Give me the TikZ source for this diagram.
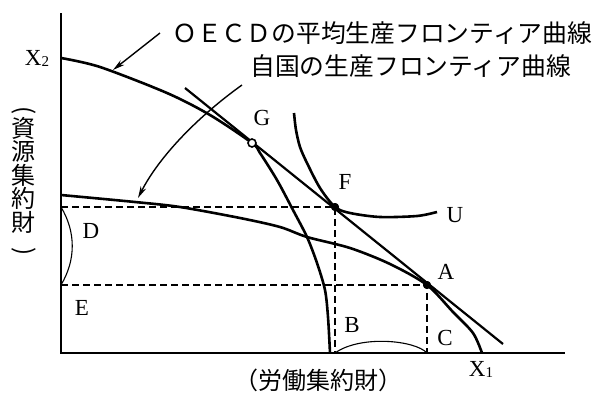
\documentclass[tikz,border=0pt]{standalone}
\usepackage{fontspec}
\setmainfont{Liberation Serif}
\newfontfamily\cjk{Noto Sans CJK JP}
\usetikzlibrary{arrows.meta,positioning}

\begin{document}
\begin{tikzpicture}[x=1pt,y=-1pt,
every node/.style={inner sep=0pt},
lbl/.style={font=\fontsize{23}{23}\selectfont},
jp/.style={font=\cjk\fontsize{24.8}{24.8}\selectfont},
jpax/.style={font=\cjk\fontsize{24}{23.5}\selectfont},
curve/.style={line width=2.6pt},
guide/.style={line width=1.5pt,dash pattern=on 7pt off 4pt},
brace/.style={line width=1.1pt},
pt/.style={circle,fill,minimum size=8pt},
arr/.style={line width=1.4pt,-{Stealth[length=12pt,width=6pt]}}]
\useasboundingbox (0,0) rectangle (598,394);
\coordinate (O) at (61,353);
\coordinate (Y) at (61,13);
\coordinate (X) at (565,353);
\coordinate (Dtop) at (61,207);
\coordinate (Ebot) at (61,285);
\coordinate (Bft) at (335,353);
\coordinate (Cft) at (427,353);
\coordinate (Tstart) at (185,88);
\coordinate (Tend) at (503,344);
\coordinate (oecdpt) at (113,70);
\coordinate (dompt) at (138,198);
\node[pt] (F) at (335,207) {};
\node[pt] (A) at (427,285) {};
\draw[guide] (Dtop) -- (F.center) -- (Bft);
\draw[guide] (Ebot) -- (A.center) -- (Cft);
\draw[line width=1.9pt] (Y) -- (O) -- (X);
\draw[curve] plot[smooth] coordinates {(61,58) (100,67) (167,93) (210,115) (252,143) (260,153) (277,180) (293,210) (307,237) (317,263) (325,290) (328,317) (330,353)};
\draw[curve] plot[smooth] coordinates {(61,195) (135,202) (180,207) (240,218) (280,227) (307,237) (350,248) (390,264) (427,285) (453,312) (473,333) (482,353)};
\draw[curve] plot[smooth] coordinates {(294,113) (296,130) (300,147) (307,163) (320,188) (335,207) (350,213) (380,217) (417,216) (437,212)};
\draw[line width=2.2pt] (Tstart) -- (Tend);
\draw[brace] (Dtop) .. controls (76,232) and (76,260) .. (Ebot);
\draw[brace] (Bft) .. controls (360,335) and (415,340) .. (Cft);
\node[circle,draw,fill=white,line width=1.6pt,minimum size=8pt] (G) at (252,143) {};
\node[pt] at (F) {};
\node[pt] at (A) {};
\node[jp,anchor=west] (oecd) at (172,33) {ＯＥＣＤの平均生産フロンティア曲線};
\node[jp,anchor=west] (dom) at (250,66) {自国の生産フロンティア曲線};
\draw[arr] ([xshift=-12pt]oecd.west) -- (oecdpt);
\draw[arr] ([shift={(-8pt,-19pt)}]dom.west) .. controls (200,115) and (160,155) .. (dompt);
\node[jpax,align=center] (resax) at (24,175) {資\\源\\集\\約\\財};
\node[jpax,rotate=-90] (resl) at (24,111) {(};
\node[jpax,rotate=-90] (resr) at (24,252) {)};
\node[jp,font=\cjk\fontsize{24}{24}\selectfont] (labax) at (318,380) {（労働集約財）};
\node[lbl] (x2) at (37,58) {X\raisebox{-1pt}{\fontsize{15}{15}\selectfont 2}};
\node[lbl] (x1) at (481,369) {X\raisebox{-1pt}{\fontsize{15}{15}\selectfont 1}};
\node[lbl] (lG) at (262,118) {G};
\node[lbl] (lF) at (345,182) {F};
\node[lbl] (lU) at (455,215) {U};
\node[lbl] (lA) at (446,272) {A};
\node[lbl] (lB) at (352,325) {B};
\node[lbl] (lC) at (445,338) {C};
\node[lbl] (lD) at (91,231) {D};
\node[lbl] (lE) at (82,308) {E};
\end{tikzpicture}
\end{document}
